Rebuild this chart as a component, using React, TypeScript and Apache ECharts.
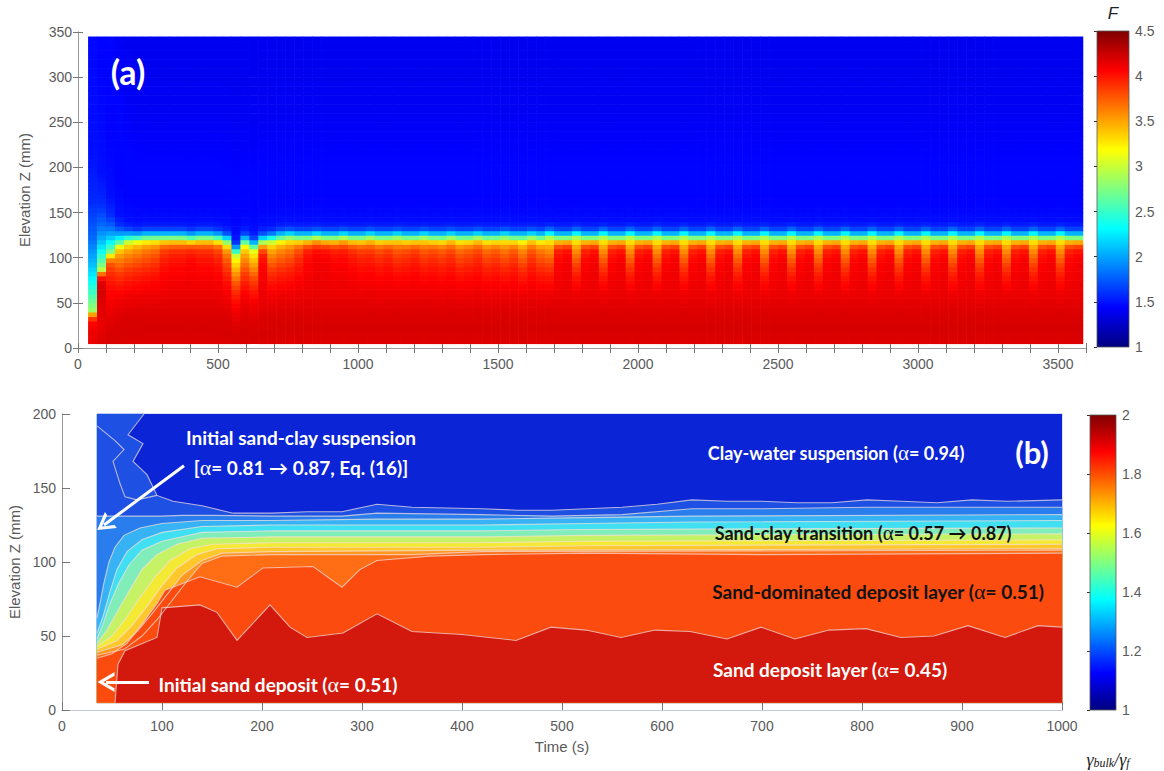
import React, { useEffect, useRef } from 'react';
import * as echarts from 'echarts';

// ================= Panel (a): F(t, z) =================
const aColStart = 36; // s
const aColWidth = 32; // s
const aRowStart = 5; // mm
const aRowEnd = 345; // mm
const aRowStep = 5; // mm

// elevation of the sand/clay interface for each 32 s column (mm)
const aIface = [
  42, 88, 106, 116, 120,
  121, 122, 122, 122, 122, 122, 121, 122, 122, 121,
  118, 106, 117, 112, 118, 120,
  122, 123, 122, 122, 123, 122, 122, 123, 122, 122,
  123, 122, 122, 123, 122, 122, 123, 122, 122, 123,
  122, 122, 123, 122, 122, 123, 122, 122, 123, 122,
  124, 122, 122, 124, 122, 122, 124, 122, 122, 124,
  122, 122, 124, 122, 122, 124, 122, 122, 124, 122,
  122, 124, 122, 122, 124, 122, 122, 124, 122, 122,
  124, 122, 122, 124, 122, 122, 124, 122, 122, 124,
  122, 122, 124, 122, 122, 124, 122, 122, 124, 122,
  122, 124, 122, 122, 124, 122, 122, 124, 122, 122,
];
// F of the upper deposit zone (~105-112 mm) for each column
const aTone = [
  4.0, 4.1, 3.75, 3.5, 3.5,
  3.55, 3.6, 3.65, 3.8, 3.85, 3.85, 3.9, 3.85, 3.85, 3.8,
  3.6, 3.3, 3.45, 3.35, 3.9, 3.5,
  3.55, 3.6, 3.75, 3.9, 3.95, 3.95, 3.9, 3.9, 3.85, 3.8,
  3.8, 3.75, 3.8, 3.7, 3.75, 3.8, 3.7, 3.75, 3.7, 3.75,
  3.65, 3.7, 3.75, 3.65, 3.7, 3.6, 3.7, 3.55, 3.7, 3.6,
  3.5, 3.9, 3.95, 3.5, 3.9, 3.95, 3.5, 3.9, 3.95, 3.5,
  3.9, 3.95, 3.5, 3.9, 3.95, 3.5, 3.9, 3.95, 3.5, 3.9,
  3.95, 3.5, 3.9, 3.95, 3.5, 3.9, 3.95, 3.5, 3.9, 3.95,
  3.5, 3.9, 3.95, 3.5, 3.9, 3.95, 3.5, 3.9, 3.95, 3.5,
  3.9, 3.95, 3.5, 3.9, 3.95, 3.5, 3.9, 3.95, 3.5, 3.9,
  3.95, 3.5, 3.9, 3.95, 3.5, 3.9, 3.95, 3.5, 3.9, 3.95,
];
// transition thickness factor of the first columns (diffuse early suspension)
const aEarlySpread = [10, 6, 3.5, 1.8, 1.2];

// steady vertical profile of F relative to an interface at 122 mm
const aProfileZ = [5, 20, 40, 60, 75, 88, 100, 108, 114, 118, 121, 124, 127, 130, 134, 140, 160, 200, 250, 300, 345];
const aProfileF = [4.17, 4.2, 4.18, 4.12, 4.08, 4.03, 3.95, 3.85, 3.65, 3.35, 2.95, 2.5, 2.1, 1.8, 1.58, 1.48, 1.44, 1.45, 1.41, 1.39, 1.39];
const aToneWeight = [0, 0, 0, 0.05, 0.25, 0.5, 0.85, 1, 0.9, 0.6, 0.3, 0.1, 0, 0, 0, 0, 0, 0, 0, 0, 0];
const aXTicks = [0, 500, 1000, 1500, 2000, 2500, 3000, 3500];

// ================= Panel (b): contour lines of γbulk/γf =================
const bT0 = 35;
const bZ0 = 5;
const bZ1 = 200;
const bDomainTop = [[35, 200], [1000, 200]];
const bLevelL = [[82, 200], [66, 186], [81, 180], [71, 168], [85, 159], [95, 145], [111, 141], [140, 138], [171, 133], [210, 133], [245, 134], [280, 134], [315, 139], [350, 137], [420, 136], [455, 135], [490, 135], [525, 136], [560, 137], [595, 139], [630, 142], [665, 141], [700, 141], [735, 140], [770, 140], [805, 142], [840, 141], [875, 140], [910, 142], [945, 141], [1000, 142]];
const bLevelK = [[35, 131], [60, 131], [85, 131], [100, 131], [120, 131.5], [150, 131.5], [210, 131], [280, 131], [315, 133], [420, 132], [490, 131], [560, 132], [630, 136], [700, 136], [805, 137], [910, 137], [1000, 137]];
const bLevelJ = [[35, 62], [38, 72], [42, 86], [47, 100], [53, 110], [62, 118], [78, 123], [100, 126], [140, 128], [210, 128], [315, 129], [420, 129], [525, 130], [630, 131], [1000, 132]];
const bLevelI = [[35, 52], [41, 63], [48, 80], [55, 95], [65, 107], [80, 115], [100, 120], [140, 124], [210, 125], [420, 125], [525, 126], [630, 127], [1000, 128]];
const bLevelH = [[35, 48], [41, 58], [48, 72], [57, 86], [67, 98], [80, 108], [100, 114], [140, 120], [210, 121], [420, 121], [525, 122], [1000, 123]];
const bLevelG = [[35, 45], [45, 54], [55, 66], [66, 79], [80, 95], [95, 105], [115, 112], [140, 116], [210, 117], [420, 117], [525, 118], [1000, 119]];
const bLevelF = [[35, 43], [50, 50], [64, 62], [78, 76], [93, 90], [108, 101], [128, 109], [150, 112], [210, 113], [420, 113], [525, 114], [1000, 115]];
const bLevelE = [[35, 41], [55, 47], [70, 57], [85, 70], [100, 84], [115, 96], [135, 105], [155, 109], [210, 110], [420, 110], [525, 111], [1000, 112]];
const bLevelD = [[35, 39], [60, 44], [75, 53], [90, 65], [105, 78], [120, 91], [140, 101], [160, 106], [210, 107], [420, 108], [1000, 109]];
const bLevelC = [[35, 37], [62, 41], [80, 50], [95, 61], [110, 74], [125, 87], [140, 99], [160, 104], [210, 105], [350, 105], [420, 107], [1000, 108]];
const bLevelB = [[35, 35], [50, 38], [65, 45], [80, 58], [95, 72], [103, 81], [138, 90], [175, 83], [201, 96], [251, 97], [280, 83], [298, 95], [315, 101], [368, 104], [420, 105], [525, 106], [700, 105], [1000, 106]];
const bLevelA = [[53, 5], [56, 31], [63, 40], [95, 49], [100, 69], [138, 71], [155, 66], [175, 47], [208, 71], [228, 56], [245, 49], [281, 52], [315, 65], [350, 53], [400, 51], [454, 47], [489, 56], [524, 54], [559, 49], [593, 54], [628, 53], [665, 48], [699, 56], [733, 48], [767, 54], [804, 55], [839, 49], [872, 50], [906, 57], [943, 49], [976, 57], [1000, 56]];
const bLineExtra = [[35, 192], [53, 182], [62, 176], [51, 168], [58, 153], [63, 144], [75, 142], [95, 145]];

// region filled below each contour (top to bottom painting order)
const bFillContours = [bDomainTop, bLevelL, bLevelK, bLevelJ, bLevelI, bLevelH, bLevelG, bLevelF, bLevelE, bLevelD, bLevelC, bLevelB, bLevelA];
const bFillColors = ['#0B24D6', '#1D50E3', '#2A7DEC', '#36B2F5', '#40E0F2', '#80EDBA', '#C6F266', '#F4EA34', '#FFC82A', '#FF9821', '#FF6D15', '#FB4B0E', '#D3190D'];
const bStrokeContours = [bLevelL, bLevelK, bLevelJ, bLevelI, bLevelH, bLevelG, bLevelF, bLevelE, bLevelD, bLevelC, bLevelB, bLevelA, bLineExtra];

// colour scale
const JET = ['#00007F', '#0000FF', '#0080FF', '#00FFFF', '#80FF80', '#FFFF00', '#FF8000', '#FF0000', '#7F0000'];
const aBarMin = 1, aBarMax = 4.5;
const bBarMin = 1, bBarMax = 2;

const FONT = "'Liberation Sans', Arial, sans-serif";
const LABEL = '#5a5a5a';
const AXIS = '#9a9a9a';

function interp(xs: number[], ys: number[], x: number) {
  if (x <= xs[0]) return ys[0];
  for (let i = 1; i < xs.length; i++) {
    if (x <= xs[i]) {
      const f = (x - xs[i - 1]) / (xs[i] - xs[i - 1]);
      return ys[i - 1] + f * (ys[i] - ys[i - 1]);
    }
  }
  return ys[ys.length - 1];
}

function buildCellsA() {
  const cells: number[][] = [];
  for (let i = 0; i < aIface.length; i++) {
    const t0 = aColStart + i * aColWidth;
    const iface = aIface[i];
    const spread = i < aEarlySpread.length ? aEarlySpread[i] : 1;
    for (let z0 = aRowStart; z0 < aRowEnd; z0 += aRowStep) {
      const z = z0 + aRowStep / 2;
      const zr = z >= iface ? 122 + (z - iface) / spread : 122 - (iface - z);
      const v = interp(aProfileZ, aProfileF, zr) + interp(aProfileZ, aToneWeight, zr) * (aTone[i] - 3.8);
      cells.push([t0, z0, Math.round(v * 1000) / 1000]);
    }
  }
  return cells;
}

function closeBelow(pts: number[][]) {
  const first = pts[0];
  const last = pts[pts.length - 1];
  const out: number[][] = [];
  if (first[1] <= bZ0) {
    // starts on the bottom edge
  } else if (first[0] > bT0 && first[1] >= bZ1) {
    out.push([bT0, bZ0], [bT0, bZ1]);
  } else {
    out.push([bT0, bZ0]);
  }
  out.push(...pts);
  out.push([last[0], bZ0]);
  return out;
}

function gradient() {
  return new echarts.graphic.LinearGradient(0, 1, 0, 0, JET.map((c, i) => ({ offset: i / (JET.length - 1), color: c })));
}

function buildOption() {
  const cellsA = buildCellsA();
  const txt = (text: string, x: number, y: number, fill: string, size = 19) => ({
    type: 'text',
    x,
    y,
    z: 100,
    silent: true,
    style: {
      text: text.replace(/α/g, '{a|α}'),
      fill,
      font: `bold ${size}px Lato, 'Open Sans', sans-serif`,
      align: 'center',
      verticalAlign: 'middle',
      rich: { a: { font: `${size + 3}px 'Liberation Serif', serif`, fill } },
    },
  });
  const arrowHead = 'path://M0,14 L8,0 L16,14 L13,14 L8,5 L3,14 Z';

  return {
    animation: false,
    textStyle: { fontFamily: FONT },
    grid: [
      { left: 78, top: 32, width: 1008, height: 316, outerBoundsMode: 'none' },
      { left: 1097, top: 31, width: 32, height: 316, outerBoundsMode: 'none' },
      { left: 62, top: 414, width: 1000, height: 296, outerBoundsMode: 'none' },
      { left: 1090, top: 415, width: 26, height: 295, outerBoundsMode: 'none' },
    ],
    xAxis: [
      {
        gridIndex: 0, type: 'value', min: 0, max: 3600, interval: 100,
        axisLine: { lineStyle: { color: AXIS } },
        axisTick: { inside: true, length: 5, lineStyle: { color: '#777' } },
        axisLabel: { color: LABEL, fontSize: 14, margin: 9, fontFamily: FONT, formatter: (v: number) => (aXTicks.indexOf(v) >= 0 ? String(v) : '') },
        splitLine: { show: false },
      },
      {
        gridIndex: 0, type: 'value', position: 'top', min: 0, max: 3600, interval: 100,
        axisLine: { lineStyle: { color: AXIS } },
        axisTick: { inside: true, length: 5, lineStyle: { color: '#777' } },
        axisLabel: { show: false }, splitLine: { show: false },
      },
      { gridIndex: 1, type: 'value', min: 0, max: 1, show: false },
      {
        gridIndex: 2, type: 'value', min: 0, max: 1000, interval: 100,
        name: 'Time (s)', nameLocation: 'middle', nameGap: 29,
        nameTextStyle: { color: LABEL, fontSize: 15, fontFamily: FONT },
        axisLine: { lineStyle: { color: AXIS } },
        axisTick: { inside: true, length: 8, lineStyle: { color: '#777' } },
        axisLabel: { color: LABEL, fontSize: 14, margin: 9, fontFamily: FONT, formatter: (v: number) => String(v) },
        splitLine: { show: false },
      },
      {
        gridIndex: 2, type: 'value', position: 'top', min: 0, max: 1000, interval: 100,
        axisLine: { lineStyle: { color: '#c4c8de' } },
        axisTick: { show: false }, axisLabel: { show: false }, splitLine: { show: false },
      },
      { gridIndex: 3, type: 'value', min: 0, max: 1, show: false },
    ],
    yAxis: [
      {
        gridIndex: 0, type: 'value', min: 0, max: 350, interval: 50,
        name: 'Elevation Z (mm)', nameLocation: 'middle', nameGap: 46,
        nameTextStyle: { color: LABEL, fontSize: 15, fontFamily: FONT },
        axisLine: { lineStyle: { color: AXIS } },
        axisTick: { inside: true, length: 5, lineStyle: { color: '#777' } },
        axisLabel: { color: LABEL, fontSize: 14, margin: 6, fontFamily: FONT },
        splitLine: { show: false },
      },
      {
        gridIndex: 0, type: 'value', position: 'right', min: 0, max: 350, interval: 50,
        axisLine: { lineStyle: { color: AXIS } },
        axisTick: { inside: true, length: 5, lineStyle: { color: '#777' } },
        axisLabel: { show: false }, splitLine: { show: false },
      },
      {
        gridIndex: 1, type: 'value', position: 'right', min: aBarMin, max: aBarMax, interval: 0.5,
        axisLine: { show: false },
        axisTick: { inside: true, length: 3, lineStyle: { color: '#333' } },
        axisLabel: { color: LABEL, fontSize: 14, margin: 6, fontFamily: FONT },
        splitLine: { show: false },
      },
      {
        gridIndex: 2, type: 'value', min: 0, max: 200, interval: 50,
        name: 'Elevation Z (mm)', nameLocation: 'middle', nameGap: 32,
        nameTextStyle: { color: LABEL, fontSize: 15, fontFamily: FONT },
        axisLine: { lineStyle: { color: AXIS } },
        axisTick: { inside: true, length: 8, lineStyle: { color: '#777' } },
        axisLabel: { color: LABEL, fontSize: 14, margin: 6, fontFamily: FONT },
        splitLine: { show: false },
      },
      {
        gridIndex: 2, type: 'value', position: 'right', min: 0, max: 200, interval: 50,
        axisLine: { lineStyle: { color: AXIS } },
        axisTick: { show: false }, axisLabel: { show: false }, splitLine: { show: false },
      },
      {
        gridIndex: 3, type: 'value', position: 'right', min: bBarMin, max: bBarMax, interval: 0.2,
        axisLine: { show: false },
        axisTick: { inside: true, length: 3, lineStyle: { color: '#333' } },
        axisLabel: { color: LABEL, fontSize: 14, margin: 6, fontFamily: FONT, formatter: (v: number) => String(Math.round(v * 10) / 10) },
        splitLine: { show: false },
      },
    ],
    visualMap: [
      { type: 'continuous', show: false, seriesIndex: 0, dimension: 2, min: aBarMin, max: aBarMax, inRange: { color: JET } },
    ],
    series: [
      {
        type: 'custom', xAxisIndex: 0, yAxisIndex: 0, silent: true,
        data: cellsA,
        renderItem: (params: any, api: any) => {
          const t0 = api.value(0);
          const z0 = api.value(1);
          const p0 = api.coord([t0, z0 + aRowStep]);
          const p1 = api.coord([t0 + aColWidth, z0]);
          return {
            type: 'rect',
            shape: { x: p0[0], y: p0[1], width: p1[0] - p0[0] + 0.6, height: p1[1] - p0[1] + 0.6 },
            style: { fill: api.visual('color') },
          };
        },
      },
      {
        type: 'custom', xAxisIndex: 2, yAxisIndex: 2, silent: true,
        data: [[0, aBarMin]],
        renderItem: (params: any, api: any) => {
          const tl = api.coord([0, aBarMax]);
          const br = api.coord([1, aBarMin]);
          return { type: 'rect', shape: { x: tl[0], y: tl[1], width: br[0] - tl[0], height: br[1] - tl[1] }, style: { fill: gradient(), stroke: '#555', lineWidth: 0.8 } };
        },
      },
      {
        type: 'custom', xAxisIndex: 3, yAxisIndex: 3, silent: true,
        data: bFillContours.map((c, i) => [c[0][0], c[0][1], i]),
        renderItem: (params: any, api: any) => {
          const idx = api.value(2);
          const poly = closeBelow(bFillContours[idx]).map((p) => api.coord(p));
          return { type: 'polygon', shape: { points: poly }, style: { fill: bFillColors[idx], stroke: bFillColors[idx], lineWidth: 0.3 } };
        },
      },
      {
        type: 'custom', xAxisIndex: 3, yAxisIndex: 3, silent: true,
        data: bStrokeContours.map((c, i) => [c[0][0], c[0][1], i]),
        renderItem: (params: any, api: any) => {
          const idx = api.value(2);
          const pts = bStrokeContours[idx].map((p) => api.coord(p));
          return { type: 'polyline', shape: { points: pts }, style: { stroke: 'rgba(245,225,220,0.72)', lineWidth: 1.1, fill: 'none' } };
        },
      },
      {
        type: 'line', xAxisIndex: 3, yAxisIndex: 3, data: [], silent: true,
        markLine: {
          silent: true,
          symbol: ['none', arrowHead],
          symbolSize: [20, 17],
          label: { show: false },
          lineStyle: { color: '#ffffff', width: 3, type: 'solid' },
          data: [
            [{ coord: [122, 165] }, { coord: [42, 125] }],
            [{ coord: [87, 19] }, { coord: [44, 19] }],
          ],
        },
      },
      {
        type: 'custom', xAxisIndex: 5, yAxisIndex: 5, silent: true,
        data: [[0, bBarMin]],
        renderItem: (params: any, api: any) => {
          const tl = api.coord([0, bBarMax]);
          const br = api.coord([1, bBarMin]);
          return { type: 'rect', shape: { x: tl[0], y: tl[1], width: br[0] - tl[0], height: br[1] - tl[1] }, style: { fill: gradient(), stroke: '#555', lineWidth: 0.8 } };
        },
      },
    ],
    graphic: [
      {
        type: 'text', x: 128, y: 71, z: 100, silent: true,
        style: { text: '(a)', fill: '#ffffff', font: "bold 34px Lato, 'Open Sans', sans-serif", align: 'center', verticalAlign: 'middle' },
      },
      {
        type: 'text', x: 1113, y: 13, z: 100, silent: true,
        style: { text: 'F', fill: '#222', font: "italic 17px 'Liberation Sans', Arial, sans-serif", align: 'center', verticalAlign: 'middle' },
      },
      {
        type: 'text', x: 1032, y: 452, z: 100, silent: true,
        style: { text: '(b)', fill: '#ffffff', font: "bold 31px Lato, 'Open Sans', sans-serif", align: 'center', verticalAlign: 'middle' },
      },
      txt('Initial sand-clay suspension', 301, 437, '#ffffff'),
      txt('[α= 0.81 → 0.87, Eq. (16)]', 301, 467, '#ffffff'),
      txt('Initial sand deposit (α= 0.51)', 278, 684, '#ffffff'),
      txt('Clay-water suspension (α= 0.94)', 836, 453, '#ffffff', 18),
      txt('Sand-clay transition (α= 0.57 → 0.87)', 863, 533, '#111111', 18),
      txt('Sand-dominated deposit layer (α= 0.51)', 878, 591, '#111111'),
      txt('Sand deposit layer (α= 0.45)', 830, 669, '#ffffff'),
      {
        type: 'text', x: 1108, y: 760, z: 100, silent: true,
        style: {
          text: '{g|γ}{s|bulk}{g|/γ}{s|f}',
          fill: '#222',
          align: 'center',
          verticalAlign: 'middle',
          rich: {
            g: { font: "italic 18px 'Liberation Serif', serif", fill: '#222' },
            s: { font: "italic 12px 'Liberation Serif', serif", fill: '#222', verticalAlign: 'bottom', padding: [6, 0, 0, 0] },
          },
        },
      },
    ],
  };
}

export default function App() {
  const ref = useRef<HTMLDivElement>(null);
  useEffect(() => {
    document.body.style.margin = '0';
    const chart = echarts.init(ref.current as HTMLDivElement, null, { renderer: 'svg' });
    chart.setOption(buildOption() as any);
    return () => chart.dispose();
  }, []);
  return <div ref={ref} style={{ width: 1164, height: 771, background: '#ffffff' }} />;
}
